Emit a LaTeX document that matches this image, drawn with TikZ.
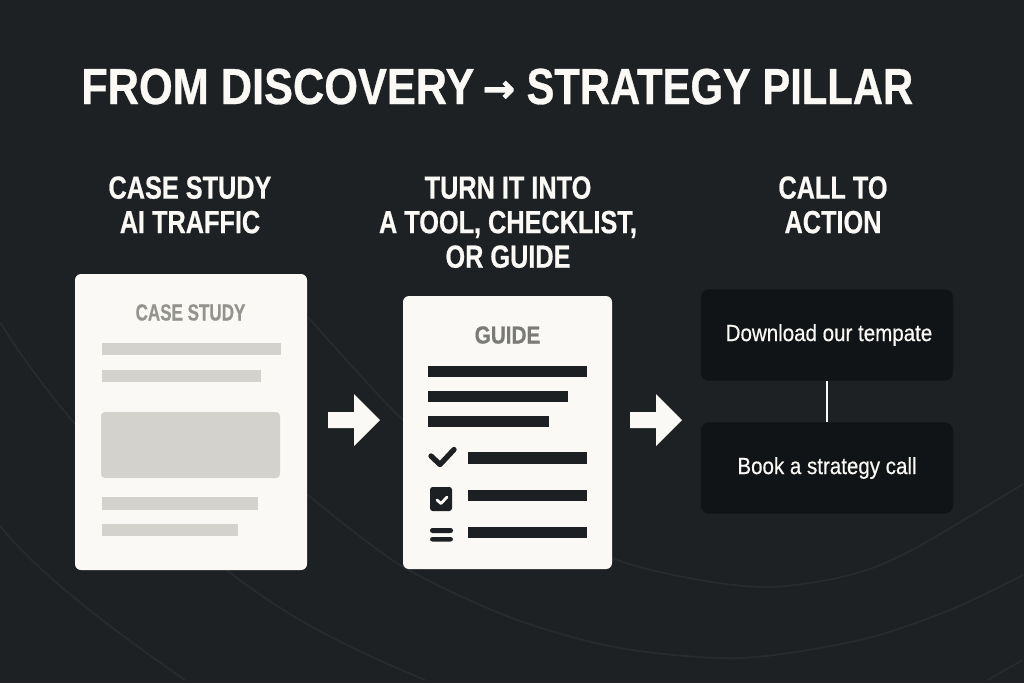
\documentclass[tikz,border=0pt]{standalone}
\usepackage{fontspec}
\setmainfont{Liberation Sans}
\newfontfamily\titlefont[FakeStretch=0.855,FakeBold=0.6]{Liberation Sans Bold}
\newfontfamily\titlefontb[FakeStretch=0.824,FakeBold=0.6]{Liberation Sans Bold}
\newfontfamily\headfont[FakeStretch=0.79,FakeBold=0.6]{Liberation Sans Bold}
\newfontfamily\caselabelfont[FakeStretch=0.73,FakeBold=0.5]{Liberation Sans Bold}
\newfontfamily\guidefont[FakeStretch=0.84,FakeBold=0.5]{Liberation Sans Bold}
\newfontfamily\bodyfont[FakeStretch=0.88,FakeBold=0.45]{Liberation Sans}
\newfontfamily\arrowfont[FakeBold=2]{DejaVu Sans Bold}
\definecolor{bgdark}{HTML}{1E2124}
\definecolor{arc}{HTML}{282B2D}
\definecolor{paper}{HTML}{FAF9F5}
\definecolor{softbar}{HTML}{D3D2CD}
\definecolor{softtext}{HTML}{94948F}
\definecolor{guidetext}{HTML}{7A7A76}
\definecolor{ink}{HTML}{1D2023}
\definecolor{btn}{HTML}{111416}
\tikzset{
 x=0.75pt,y=-0.75pt,
 titletext/.style={text=paper,font=\titlefont\fontsize{38}{40}\selectfont,inner sep=0pt},
 headtext/.style={text=paper,font=\headfont\fontsize{24}{25.9}\selectfont,align=center,inner sep=0pt},
 sheet/.style={fill=paper,rounded corners=4.5pt},
 softline/.style={fill=softbar},
 inkline/.style={fill=ink},
 flowarrow/.style={fill=paper},
 cta/.style={draw=none,fill=btn,rounded corners=6pt,minimum width=189pt,minimum height=68.5pt,text=paper,font=\bodyfont\fontsize{17.5}{19}\selectfont,inner sep=0pt},
 bgarc/.style={draw=arc,line width=1.3pt},
}
\begin{document}
\begin{tikzpicture}
\useasboundingbox (0,0) rectangle (1024,683);
\fill[bgdark] (0,0) rectangle (1024,683);
% faint background arcs
\draw[bgarc] (0,322) .. controls (60,420) and (180,550) .. (300,620) .. controls (345,646) and (385,663) .. (425,680);
\draw[bgarc] (0,526) .. controls (40,575) and (110,628) .. (185,680);
\draw[bgarc] plot[smooth] coordinates {(308,317) (400,417) (500,500) (612,558) (700,580) (772,587) (850,575) (912,550) (1023,484)};
\draw[bgarc] plot[smooth] coordinates {(308,495) (400,565) (512,618) (620,648) (740,658) (860,640) (950,610) (1023,575)};
\draw[bgarc] (988,680) -- (1005,670) -- (1023,660);
% title
\node[titletext,anchor=base west] (title) at (81,104) {FROM DISCOVERY\hspace{6.25pt}{\arrowfont\fontsize{29}{30}\selectfont\raisebox{1.5pt}{→}}\hspace{8.6pt}{\titlefontb STRATEGY PILLAR}};
% headings
\node[headtext,anchor=north] (h1) at (190,176) {CASE STUDY\\AI TRAFFIC};
\node[headtext,anchor=north] (h2) at (508,176) {TURN IT INTO\\A TOOL, CHECKLIST,\\OR GUIDE};
\node[headtext,anchor=north] (h3) at (833,176) {CALL TO\\ACTION};
% case study sheet
\fill[sheet] (75,274) rectangle (307,570);
\node[text=softtext,font=\caselabelfont\fontsize{17.5}{20}\selectfont,inner sep=0pt,anchor=base] (cs) at (190.5,320.5) {CASE STUDY};
\fill[softline] (102,343) rectangle (281,355);
\fill[softline] (102,370) rectangle (261,382);
\fill[softline,rounded corners=3pt] (101,412) rectangle (280,478);
\fill[softline] (102,497) rectangle (258,510);
\fill[softline] (102,524) rectangle (238,536);
% guide sheet
\fill[sheet] (403,296) rectangle (612,569);
\node[text=guidetext,font=\guidefont\fontsize{18.5}{22}\selectfont,inner sep=0pt,anchor=base] (gd) at (507.5,343.5) {GUIDE};
\fill[inkline] (428,366) rectangle (587,377);
\fill[inkline] (428,391) rectangle (568,402);
\fill[inkline] (428,416) rectangle (549,427);
\fill[inkline] (468,452) rectangle (587,464);
\fill[inkline] (468,490) rectangle (587,501);
\fill[inkline] (468,527) rectangle (587,538);
\draw[ink,line width=4pt,line cap=round,line join=round] (431,456) -- (440,464.5) -- (454,449.5);
\fill[ink,rounded corners=2pt] (430,487) rectangle (452,511);
\draw[paper,line width=2.1pt,line cap=round,line join=round] (437,500) -- (441,503.5) -- (447,497);
\fill[ink,rounded corners=1.8pt] (430,528) rectangle (453,533);
\fill[ink,rounded corners=1.8pt] (430,537) rectangle (453,541.5);
% arrows
\fill[flowarrow] (328,412) -- (354,412) -- (354,394) -- (380,420) -- (354,446) -- (354,428) -- (328,428) -- cycle;
\fill[flowarrow] (630,412) -- (656,412) -- (656,394) -- (682,420) -- (656,446) -- (656,428) -- (630,428) -- cycle;
% calls to action
\node[cta] (dl) at (827,335) {\hspace*{3pt}\raisebox{-1pt}{Download our tempate}};
\node[cta] (bk) at (827,468) {\raisebox{-1pt}{Book a strategy call}};
\draw[paper,line width=2.2pt] (dl.south) -- (bk.north);
\end{tikzpicture}
\end{document}
